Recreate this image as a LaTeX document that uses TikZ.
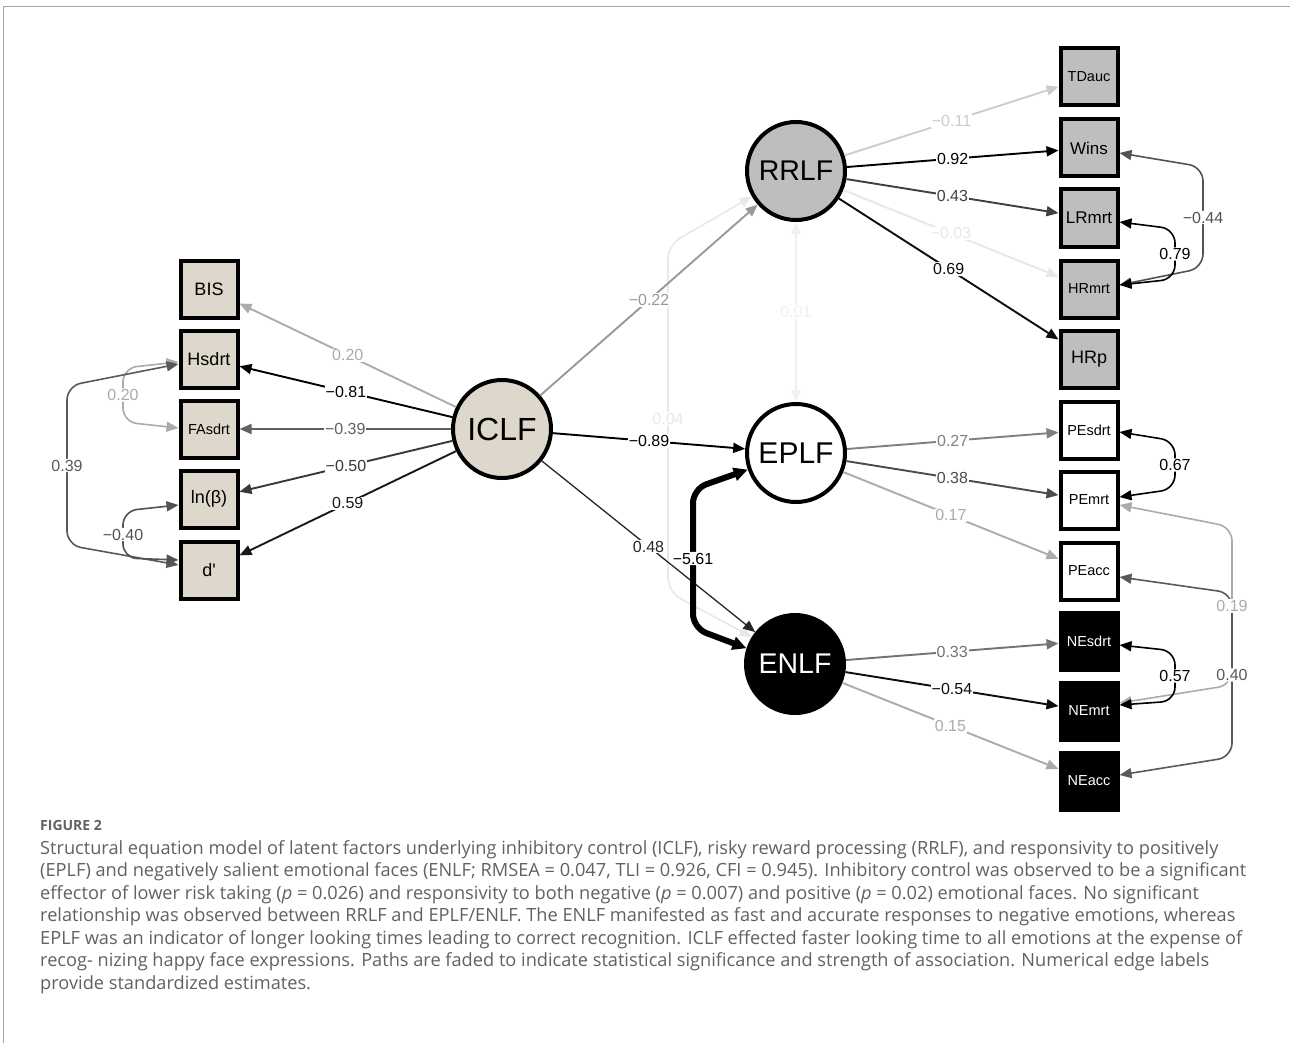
\documentclass[tikz,border=0pt]{standalone}
\usepackage{fontspec}
\setmainfont{Liberation Sans}
\newfontfamily\capfont{Open Sans}
\usetikzlibrary{arrows.meta,calc}
\definecolor{beige}{RGB}{221,216,203}
\definecolor{rrgray}{RGB}{190,190,190}
\begin{document}
\begin{tikzpicture}[x=1pt,y=-1pt,
  box/.style={draw=black,line width=4pt,minimum width=57pt,minimum height=57pt,inner sep=0pt,font=\fontsize{18}{18}\selectfont},
  sm/.style={font=\fontsize{14.5}{14.5}\selectfont},
  md/.style={font=\fontsize{17}{17}\selectfont},
  lat/.style={circle,draw=black,line width=4pt,minimum size=98pt,inner sep=0pt},
  ed/.style={line width=1.9pt,-{Triangle[length=12pt,width=10pt]}},
  cv/.style={line width=1.6pt,{Triangle[length=12pt,width=10pt]}-{Triangle[length=12pt,width=10pt]},rounded corners=14pt},
  lbl/.style={fill=white,inner sep=1pt,font=\fontsize{16}{16}\selectfont}]
\useasboundingbox (0,0) rectangle (1290,1043);
% frame
\draw[black!35,line width=1pt] (3,1043) -- (3,7) -- (1290,7);

% latent nodes
\node[lat,fill=beige,font=\fontsize{32}{32}\selectfont] (ICLF) at (502,429) {ICLF};
\node[lat,fill=rrgray,font=\fontsize{28.5}{28.5}\selectfont] (RRLF) at (796,171) {RRLF};
\node[lat,fill=white,font=\fontsize{30}{30}\selectfont] (EPLF) at (796,453) {EPLF};
\node[lat,fill=black,text=white,font=\fontsize{28.5}{28.5}\selectfont] (ENLF) at (795,664) {ENLF};

% left indicators
\node[box,fill=beige] (BIS) at (209,289) {BIS};
\node[box,fill=beige] (Hsdrt) at (209,359) {Hsdrt};
\node[box,fill=beige,sm] (FAsdrt) at (209,429) {FAsdrt};
\node[box,fill=beige] (lnb) at (209,499) {ln(β)};
\node[box,fill=beige] (dp) at (209,570) {d\textquotesingle};

% right indicators
\node[box,fill=rrgray,sm] (TDauc) at (1089,77) {TDauc};
\node[box,fill=rrgray,md] (Wins) at (1089,148) {Wins};
\node[box,fill=rrgray,md] (LRmrt) at (1089,218) {LRmrt};
\node[box,fill=rrgray,sm] (HRmrt) at (1089,289) {HRmrt};
\node[box,fill=rrgray] (HRp) at (1089,359) {HRp};
\node[box,fill=white,sm] (PEsdrt) at (1089,430) {PEsdrt};
\node[box,fill=white,sm] (PEmrt) at (1089,500) {PEmrt};
\node[box,fill=white,sm] (PEacc) at (1089,571) {PEacc};
\node[box,fill=black,text=white,sm] (NEsdrt) at (1089,641) {NEsdrt};
\node[box,fill=black,text=white,sm] (NEmrt) at (1089,711) {NEmrt};
\node[box,fill=black,text=white,sm] (NEacc) at (1089,781) {NEacc};

% faint structural covariances
\draw[black!6,line width=1.5pt,{Triangle[length=12pt,width=10pt]}-{Triangle[length=12pt,width=10pt]}] (EPLF) -- node[lbl]{0.01} (RRLF);
\draw[cv,black!9] (RRLF.210) -- (668,245) -- node[lbl]{0.04} (668,592) -- (ENLF.148);

% faint loadings first
\draw[ed,black!9] (RRLF) -- node[lbl]{−0.03} (HRmrt);
\draw[ed,black!20] (RRLF) -- node[lbl]{−0.11} (TDauc);
\draw[ed,black!33] (ICLF) -- node[lbl]{0.20} (BIS);
\draw[ed,black!40] (ICLF) -- node[lbl]{−0.22} (RRLF);
\draw[ed,black!33] (EPLF) -- node[lbl]{0.17} (PEacc);
\draw[ed,black!33] (ENLF) -- node[lbl]{0.15} (NEacc);
\draw[ed,black!50] (EPLF) -- node[lbl]{0.27} (PEsdrt);
\draw[ed,black!55] (ENLF) -- node[lbl]{0.33} (NEsdrt);
\draw[ed,black!62] (ICLF) -- node[lbl]{−0.39} (FAsdrt);
\draw[ed,black!70] (EPLF) -- node[lbl]{0.38} (PEmrt);
\draw[ed,black!75] (RRLF) -- node[lbl]{0.43} (LRmrt);
\draw[ed,black!78] (ICLF) -- node[lbl]{−0.50} (lnb);
\draw[ed,black!90] (ICLF) -- node[lbl]{0.59} (dp);
\draw[ed,black!85,line width=1.3pt] (ICLF) -- node[lbl]{0.48} (ENLF);
\draw[ed,black!95] (RRLF) -- node[lbl]{0.69} (HRp);
\draw[ed,black!95] (ENLF) -- node[lbl]{−0.54} (NEmrt);
\draw[ed,black] (ICLF) -- node[lbl]{−0.81} (Hsdrt);
\draw[ed,black] (ICLF) -- node[lbl]{−0.89} (EPLF);
\draw[ed,black] (RRLF) -- node[lbl]{0.92} (Wins);

% thick latent covariance
\draw[black,line width=6pt,rounded corners=14pt,{Triangle[length=14pt,width=13pt]}-{Triangle[length=14pt,width=13pt]}] (EPLF.199) -- (693,489) -- node[lbl]{−5.61} (693,628) -- (ENLF.162);

% left residual covariances
\draw[cv,black!33] ($(Hsdrt.west)+(0,3)$) -- (123,368) -- node[lbl]{0.20} (123,422) -- ($(FAsdrt.west)+(0,-1)$);
\draw[cv,black!65] ($(Hsdrt.west)+(0,5)$) -- (67,386) -- node[lbl]{0.39} (67,545) -- ($(dp.west)+(0,-5)$);
\draw[cv,black!68] ($(lnb.west)+(0,6)$) -- (123,511) -- node[lbl]{−0.40} (123,558) -- ($(dp.west)+(0,-10)$);

% right residual covariances
\draw[cv,black!33] ($(PEmrt.east)+(0,5)$) -- (1232,527) -- node[lbl](l19){0.19} (1232,685) -- ($(NEmrt.east)+(0,-8)$);
\draw[cv,black!65] ($(PEacc.east)+(0,6)$) -- (1232,593) -- node[lbl]{0.40} (1232,757) -- ($(NEacc.east)+(0,-6)$);
\node[lbl,text=black!33] (l19b) at (l19) {0.19};
\draw[cv,black!68] ($(Wins.east)+(0,5)$) -- (1203,167) -- node[lbl]{−0.44} (1203,268) -- ($(HRmrt.east)+(0,-4)$);
\draw[cv,black] ($(LRmrt.east)+(0,4)$) -- (1175,229) -- node[lbl]{0.79} (1175,279) -- ($(HRmrt.east)+(0,-4)$);
\draw[cv,black] ($(PEsdrt.east)+(0,2)$) -- (1175,441) -- node[lbl]{0.67} (1175,489) -- ($(PEmrt.east)+(0,-3)$);
\draw[cv,black] ($(NEsdrt.east)+(0,4)$) -- (1175,651) -- node[lbl]{0.57} (1175,701) -- ($(NEmrt.east)+(0,-6)$);

% caption
\node[anchor=west,inner sep=0pt,text=black!62,font=\capfont\bfseries\fontsize{14}{14}\selectfont] (figlab) at (40,825) {FIGURE 2};
\node[anchor=north west,inner sep=0pt,align=left,text=black!62,font=\capfont\fontsize{18.2}{22.5}\selectfont] (caption) at (40,840) {Structural equation model of latent factors underlying inhibitory control (ICLF), risky reward processing (RRLF), and responsivity to positively\\
(EPLF) and negatively salient emotional faces (ENLF; RMSEA = 0.047, TLI = 0.926, CFI = 0.945). Inhibitory control was observed to be a significant\\
effector of lower risk taking (\textit{p} = 0.026) and responsivity to both negative (\textit{p} = 0.007) and positive (\textit{p} = 0.02) emotional faces. No significant\\
relationship was observed between RRLF and EPLF/ENLF. The ENLF manifested as fast and accurate responses to negative emotions, whereas\\
EPLF was an indicator of longer looking times leading to correct recognition. ICLF effected faster looking time to all emotions at the expense of\\
recog- nizing happy face expressions. Paths are faded to indicate statistical significance and strength of association. Numerical edge labels\\
provide standardized estimates.};
\end{tikzpicture}
\end{document}
